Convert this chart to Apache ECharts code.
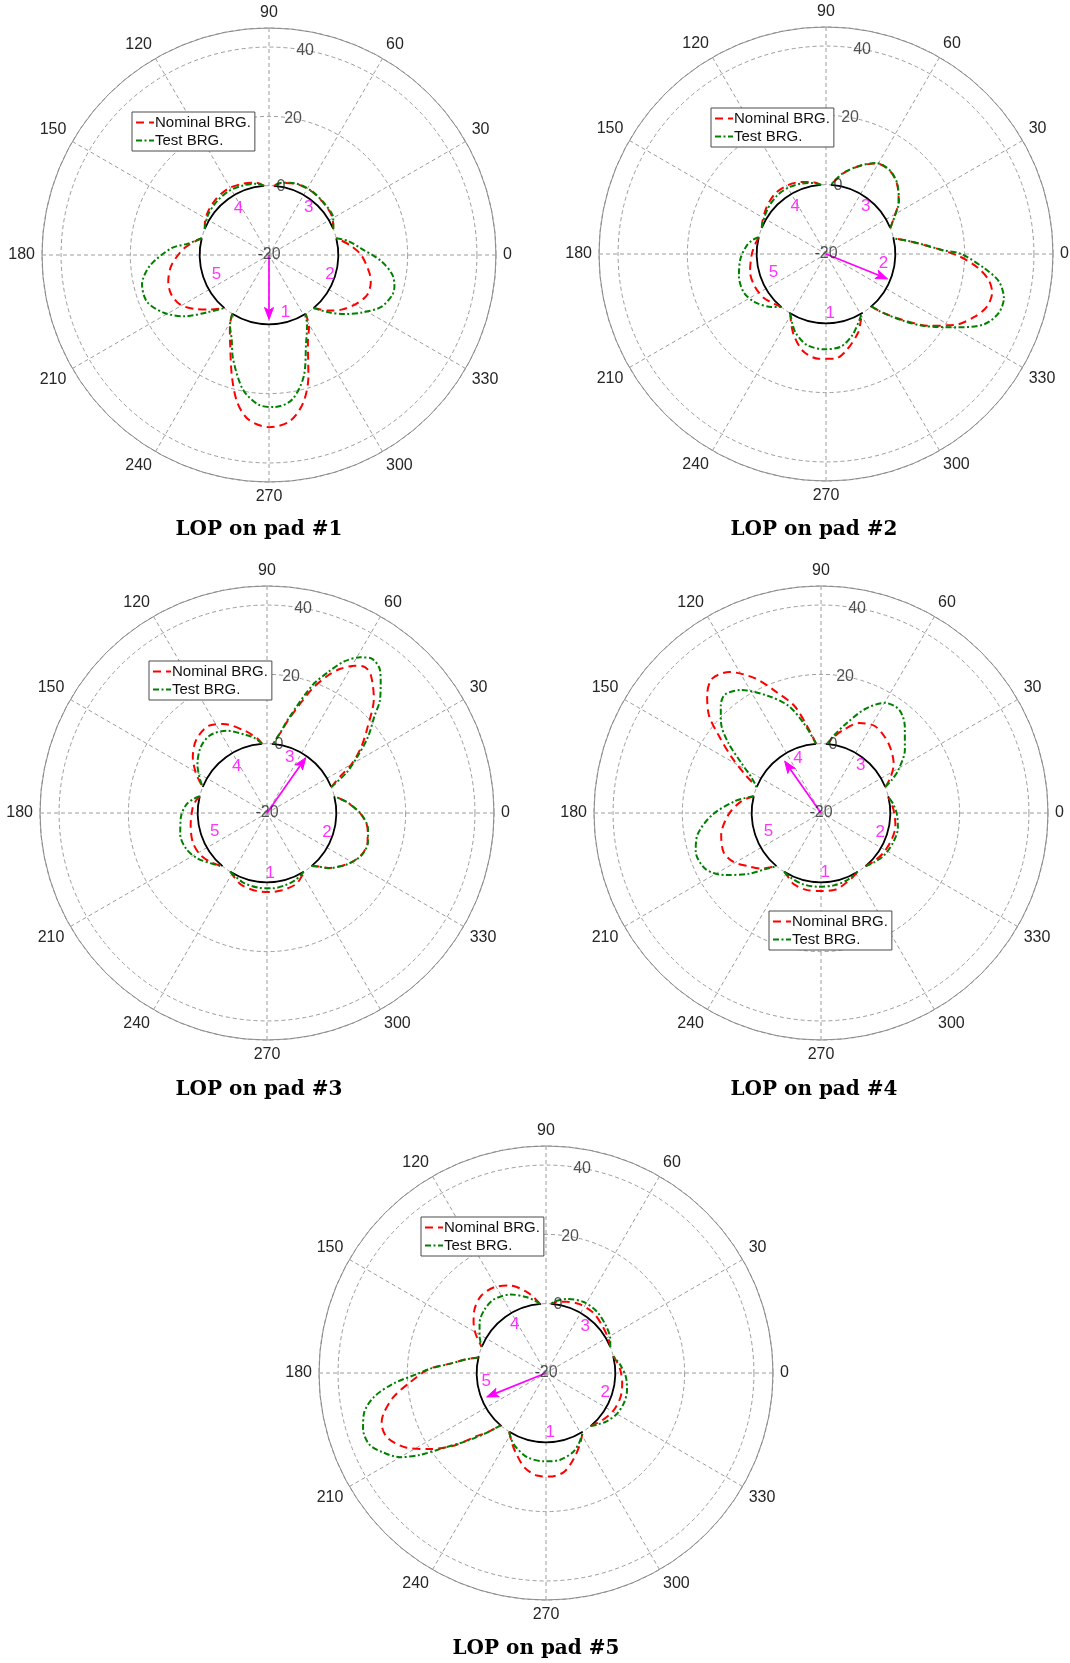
<!DOCTYPE html>
<html><head><meta charset="utf-8">
<script src="https://cdn.jsdelivr.net/npm/echarts/dist/echarts.min.js"></script>
<style>html,body{margin:0;padding:0;background:#fff}#c{width:1070px;height:1663px}</style>
</head><body><div id="c"></div>
<script>
// ---------- data (lobes as [angle, value]) ----------
const radiusTicks = [-20, 0, 20, 40];
const padStart = [238, 310, 22, 94, 166];
const padEnd = [302, 374, 86, 158, 230];
const seriesNames = ['Nominal BRG.', 'Test BRG.'];
const titles = ['LOP on pad #1', 'LOP on pad #2', 'LOP on pad #3', 'LOP on pad #4', 'LOP on pad #5'];

const nominal1 = [
  [[238,0],[241,3.3],[246,7.6],[253,16.6],[258,23.7],[263,27.9],[270,29.7],[277,28.4],[283,23.8],[288,16.8],[294,7.6],[299,3.8],[302,0]],
  [[310,0],[317,3.5],[323,6.2],[331,8.9],[338,10.6],[345,10.4],[350,9.4],[360,6.6],[7,3.5],[14,0]],
  [[22,0],[30,1.2],[42,1.7],[56,2.1],[70,1.9],[80,1.1],[86,0]],
  [[94,0],[100,1.2],[110,1.9],[122,2.5],[134,2.2],[146,1.5],[154,0.6],[158,0]],
  [[166,0],[175,4.4],[186,8.3],[195,10.1],[202,10.4],[209,9.4],[216,6.5],[223,3.1],[230,0]]
];
const test1 = [
  [[238,0],[241,3.2],[246,6.5],[251,11.8],[259,19.5],[266,23.3],[272,23.9],[279,22.3],[286,16.4],[293,7.4],[298,3.4],[302,0]],
  [[310,0],[316,3.8],[322,7.7],[328,11.4],[335,15.6],[342,17.4],[346,17.3],[351,16],[357,12.3],[4,6.7],[10,3.2],[14,0]],
  [[22,0],[30,1.4],[42,1.8],[56,2.2],[70,2],[80,1.2],[86,0]],
  [[94,0],[100,0.9],[110,1.4],[122,1.8],[134,1.6],[146,1.1],[154,0.4],[158,0]],
  [[166,0],[172,3.6],[176,8.2],[185,14.4],[193,17.6],[201,17.7],[209,14.5],[216,10.1],[223,4.2],[230,0]]
];
const nominal2 = [
  [[239,0],[244,2.8],[249,5.5],[257,8.9],[266,10.3],[275,10.3],[282,8.4],[292,4.6],[297,2],[301,0]],
  [[311,0],[314,3.5],[320,10],[325,16.1],[331,22.3],[337,26.5],[342,28.9],[347,29.2],[351,27.5],[355,23.8],[359,18.5],[2,13.3],[5,8.7],[9,4.1],[13,0]],
  [[22,0],[28,2.2],[36,5.9],[45,8.9],[53,10.3],[61,9.9],[69,7.2],[78,3.8],[86,0]],
  [[94,0],[100,1],[109,2],[119,2.7],[130,2.8],[142,1.8],[153,0.6],[158,0]],
  [[166,0],[172,0.6],[180,1.4],[193,2.5],[204,2.6],[215,2],[224,0.7],[230,0]]
];
const test2 = [
  [[239,0],[244,2.2],[249,4.4],[258,6.8],[269,7.5],[279,7.1],[288,4.6],[297,1.3],[301,0]],
  [[311,0],[313,2.5],[319,9.3],[324,15.4],[331,23.6],[336,29.9],[341,32.6],[346,32.9],[351,30.5],[355,25.7],[0,19],[2,13.5],[5,8.9],[9,4.1],[13,0]],
  [[22,0],[28,2.3],[36,6],[45,9],[53,10.4],[61,10],[69,7.3],[78,3.9],[86,0]],
  [[94,0],[100,0.8],[109,1.5],[119,2],[130,2],[142,1.3],[153,0.4],[158,0]],
  [[166,0],[169,1.5],[174,3],[183,4.7],[194,5.9],[205,6.2],[214,4.8],[224,2],[230,0]]
];
const nominal3 = [
  [[238,0],[243,0.8],[250,2],[262,2.7],[272,2.8],[281,2.7],[292,2.2],[298,1],[302,0]],
  [[310,0],[314,1.5],[318,3.7],[328,7.6],[336,9.8],[344,10.2],[351,9.4],[359,7.2],[7,3.6],[11,1.5],[14,0]],
  [[22,0],[27,4.1],[30,8.2],[35,13.2],[40,17.7],[47,25.2],[53,29.8],[56,30.7],[59,29.6],[63,26.7],[66,23.5],[70,18.1],[77,7.7],[80,4],[85,0]],
  [[94,0],[97,1.5],[100,2.6],[104,4.2],[116,8.6],[124,10.3],[134,9.4],[143,6.8],[151,3.4],[158,0]],
  [[166,0],[170,0.8],[176,1.5],[189,2.3],[201,3],[211,2.8],[221,1.6],[230,0]]
];
const test3 = [
  [[238,0],[244,0.5],[252,1.3],[264,1.7],[274,1.8],[284,1.5],[293,1],[302,0]],
  [[310,0],[314,1.5],[318,3.8],[328,7.7],[336,9.9],[344,10.3],[351,9.5],[359,7.3],[7,3.7],[11,1.5],[14,0]],
  [[22,0],[27,5.8],[32,10.8],[37,16.5],[42,21.7],[45,26.1],[49,30],[52,32.8],[56,33.8],[59,32.4],[63,29.1],[66.5,24.4],[70.5,19],[77,8.2],[80,4.2],[85,0]],
  [[94,0],[99,1.8],[105,3.3],[116,6.4],[126,7.8],[135,7],[145,4.5],[152,2.1],[158,0]],
  [[166,0],[169,1.5],[174,3.4],[183,4.9],[194,5.8],[204,5.5],[213,4],[223,1.5],[230,0]]
];
const nominal4 = [
  [[238,0],[243,0.8],[249,2],[260,2.6],[271,2.5],[281,2.5],[290,1.4],[296,0.7],[302,0]],
  [[310,0],[318,0.7],[328,1.4],[340,1.8],[350,1.8],[359,1.2],[7,0.6],[13,0]],
  [[22,0],[27,2.5],[34,5.3],[46,8],[58,9.5],[67,8.2],[75,4.8],[81,2],[85,0]],
  [[94,0],[99,5.3],[104,11.9],[110,17],[116,23.2],[123,28.5],[129,29.9],[134,27.3],[139,22.8],[143,16.8],[148,10.4],[153,4.7],[158,0]],
  [[166,0],[171.5,3.2],[181,6.7],[192.5,9.5],[202,10.3],[209,9],[216,6.1],[223,3.5],[230,0]]
];
const test4 = [
  [[238,0],[245,0.6],[256,1.2],[268,1.3],[280,1.2],[291,0.8],[302,0]],
  [[310,0],[317,0.9],[326,1.9],[338,2.5],[349,2.6],[359,1.9],[7,1],[13,0]],
  [[22,0],[25,2.5],[29,5.5],[37,10.3],[46,14.8],[53,17.4],[60,16.7],[67,12.6],[74,7],[80,3],[85,0]],
  [[94,0],[101,6.5],[107,12.4],[114.5,17.2],[123,22.3],[129,24],[133,22.4],[138,18.8],[143,13.4],[148,7],[153,2.5],[158,0]],
  [[166,0],[169,2.5],[172,5],[181,11.4],[190,16.2],[197,17.8],[206,17],[213,12.9],[220,7.3],[225,3],[230,0]]
];
const nominal5 = [
  [[238,0],[243,2],[248,4.1],[257,7.9],[265,9.7],[272,9.9],[280,9.1],[287,6.4],[295,3],[302,0]],
  [[310,0],[320,1.2],[331,2.3],[342,2.6],[352,2.2],[2,1.5],[9,0.7],[14,0]],
  [[22,0],[28,0.5],[40,1.2],[52,2.1],[64,2.1],[74,1.4],[82,0.6],[86,0]],
  [[95,0],[99,2],[103,3.9],[112,7.2],[121,8.9],[130,9.1],[138,7.7],[145,5.5],[151,3.2],[158,0]],
  [[167,0],[170.5,3.6],[174,7.2],[178,13.7],[184,19.4],[189,24.6],[194,28.3],[197,29.6],[202,29.5],[208,25.8],[213,20.3],[218,14.2],[222,7.5],[225.5,3.8],[229,0]]
];
const test5 = [
  [[238,0],[242,1.5],[248,3.1],[257.5,4.9],[269,5.5],[279,5.4],[289,4.1],[296,2.1],[302,0]],
  [[310,0],[315,1],[321,2.3],[330,3.6],[339,4.1],[348,3.9],[357,3.1],[5,1.8],[10,0.8],[14,0]],
  [[22,0],[28,1],[38,2],[50,3],[62,3.2],[74,2.2],[82,1],[86,0]],
  [[95,0],[99,1.2],[104,2.5],[114,4.8],[125,6],[134,5.5],[143,4],[151,1.9],[158,0]],
  [[167,0],[170.5,3.6],[174,7.2],[178,13.7],[180,16.5],[184,24.2],[188,30.2],[192.5,33.8],[197,35.2],[202,35],[206,32.3],[210,28.6],[213,23.4],[216,17],[221,9.6],[225.5,4],[229,0]]
];
const nominalAll = [nominal1, nominal2, nominal3, nominal4, nominal5];
const testAll = [test1, test2, test3, test4, test5];

// load arrow: [tip radius, angle]
const loadArrows = [[-1.4, 270], [-0.8, 338], [-0.5, 55], [-1.7, 125], [-1.5, 202]];
// pad number label positions: [radius, angle]
const padLabels = [
  [[-2.8,286],[-1.5,342],[-2.2,50],[-3.8,123],[-3.9,200]],
  [[-2.8,274],[-3.2,351],[-2.2,50],[-3.7,123],[-4,199]],
  [[-2.7,273],[-1.8,342],[-2.7,67.6],[-4,123],[-4,199.7]],
  [[-2.7,274],[-2,342],[-2.2,50],[-3,113],[-3.9,199.6]],
  [[-2.8,274],[-2,342],[-2.4,50],[-3.4,123],[-2.6,188]]
];

// ---------- layout ----------
const centers = [[269,255],[826,254],[267,813],[821,813],[546,1373]];
const legendPos = [[132,112],[711,108],[149,661],[769,911],[421,1217]];
const titlePos = [[259,530],[814,530],[259,1090],[814,1090],[536,1649]];
const R = 227;

function toLine(lobes){
  const out = [];
  lobes.forEach((lobe, k) => {
    if (k) out.push(['-','-']);
    lobe.forEach(p => out.push([p[1], p[0]]));
  });
  return out;
}

const polar = [], angleAxis = [], radiusAxis = [], series = [], legend = [], graphic = [];
centers.forEach((c, i) => {
  polar.push({center: c, radius: [0, R]});
  angleAxis.push({
    polarIndex: i, type: 'value', min: 0, max: 360, interval: 30, startAngle: 0, clockwise: false,
    axisLine: {lineStyle: {color: '#8c8c8c', width: 1}},
    axisTick: {show: false},
    axisLabel: {margin: 7, color: '#262626', fontSize: 16, fontFamily: 'Liberation Sans',
      formatter: v => (v === 360 ? '' : String(v))},
    splitLine: {lineStyle: {color: '#9c9c9c', width: 1, type: [4, 3]}}
  });
  radiusAxis.push({
    polarIndex: i, type: 'value', min: -20, max: 45.5, interval: 20,
    axisLine: {show: false}, axisTick: {show: false}, axisLabel: {show: false},
    splitLine: {lineStyle: {color: '#9c9c9c', width: 1, type: [4, 3]}}
  });
  // pad arcs (black)
  series.push({
    type: 'custom', coordinateSystem: 'polar', polarIndex: i, silent: true, clip: false, z: 2,
    encode: {radius: 0, angle: 1},
    data: padStart.map((s, k) => [0, s, padEnd[k]]),
    renderItem: (params, api) => {
      const s = api.value(1), e = api.value(2);
      const cc = api.coord([-20, 0]);
      const p = api.coord([0, s]);
      const r = Math.hypot(p[0] - cc[0], p[1] - cc[1]);
      return {type: 'arc', shape: {cx: cc[0], cy: cc[1], r: r,
        startAngle: -s * Math.PI / 180, endAngle: -e * Math.PI / 180, clockwise: false},
        style: {stroke: '#000', lineWidth: 1.8, fill: null}};
    }
  });
  series.push({
    name: seriesNames[0], type: 'line', coordinateSystem: 'polar', polarIndex: i,
    data: toLine(nominalAll[i]), symbol: 'none', showSymbol: false, smooth: 0.3, connectNulls: false,
    lineStyle: {color: '#ff0000', width: 2, type: [8, 5]}, itemStyle: {color: '#ff0000'}, z: 3
  });
  series.push({
    name: seriesNames[1], type: 'line', coordinateSystem: 'polar', polarIndex: i,
    data: toLine(testAll[i]), symbol: 'none', showSymbol: false, smooth: 0.3, connectNulls: false,
    lineStyle: {color: '#008000', width: 2, type: [6, 2.5, 2, 2.5]}, itemStyle: {color: '#008000'}, z: 3
  });
  // load arrow
  series.push({
    type: 'custom', coordinateSystem: 'polar', polarIndex: i, silent: true, clip: false, z: 4,
    encode: {radius: 0, angle: 1},
    data: [loadArrows[i]],
    renderItem: (params, api) => {
      const tip = api.value(0), a = api.value(1);
      const p0 = api.coord([-20, a]), p1 = api.coord([tip, a]);
      const dx = p1[0] - p0[0], dy = p1[1] - p0[1], L = Math.hypot(dx, dy);
      const ux = dx / L, uy = dy / L, hl = 12, hw = 4.5;
      const bx = p1[0] - ux * hl, by = p1[1] - uy * hl;
      return {type: 'group', children: [
        {type: 'line', shape: {x1: p0[0], y1: p0[1], x2: bx + ux * 3, y2: by + uy * 3},
          style: {stroke: '#ff00ff', lineWidth: 1.7}},
        {type: 'polygon', shape: {points: [[p1[0], p1[1]], [bx - uy * hw, by + ux * hw], [bx + ux * 3, by + uy * 3], [bx + uy * hw, by - ux * hw]]},
          style: {fill: '#ff00ff', stroke: '#ff00ff', lineWidth: 1}}
      ]};
    }
  });
  // pad numbers
  series.push({
    type: 'scatter', coordinateSystem: 'polar', polarIndex: i, silent: true, z: 5,
    symbolSize: 1, itemStyle: {color: 'rgba(0,0,0,0)'},
    label: {show: true, position: 'inside', formatter: '{b}', color: '#ff00ff', fontSize: 17, fontFamily: 'Liberation Sans'},
    data: padLabels[i].map((p, k) => ({name: String(k + 1), value: p}))
  });
  // radial tick labels
  series.push({
    type: 'scatter', coordinateSystem: 'polar', polarIndex: i, silent: true, z: 5,
    symbolSize: 1, itemStyle: {color: 'rgba(0,0,0,0)'},
    label: {show: true, position: 'inside', formatter: '{b}', color: '#262626', fontSize: 16, fontFamily: 'Liberation Sans'},
    data: radiusTicks.map(v => ({name: String(v), value: [v, 80]}))
  });
  legend.push({
    left: legendPos[i][0], top: legendPos[i][1], orient: 'vertical', data: seriesNames,
    itemWidth: 18, itemHeight: 14, itemGap: 3, padding: [3, 4, 3, 3],
    borderColor: '#4a4a4a', borderWidth: 1, backgroundColor: '#fff', selectedMode: false,
    itemStyle: {opacity: 0},
    textStyle: {fontSize: 15, color: '#111', fontFamily: 'Liberation Sans', padding: [0, 0, 0, -4]}
  });
  graphic.push({
    type: 'text', x: titlePos[i][0], y: titlePos[i][1], z: 10,
    style: {text: titles[i], fontFamily: 'DejaVu Serif', fontWeight: 'bold', fontSize: 20,
      fill: '#000', align: 'center', verticalAlign: 'middle'}
  });
});

const chart = echarts.init(document.getElementById('c'), null, {renderer: 'canvas'});
chart.setOption({
  animation: false,
  backgroundColor: '#fff',
  textStyle: {fontFamily: 'Liberation Sans'},
  polar, angleAxis, radiusAxis, series, legend, graphic
});
</script></body></html>
